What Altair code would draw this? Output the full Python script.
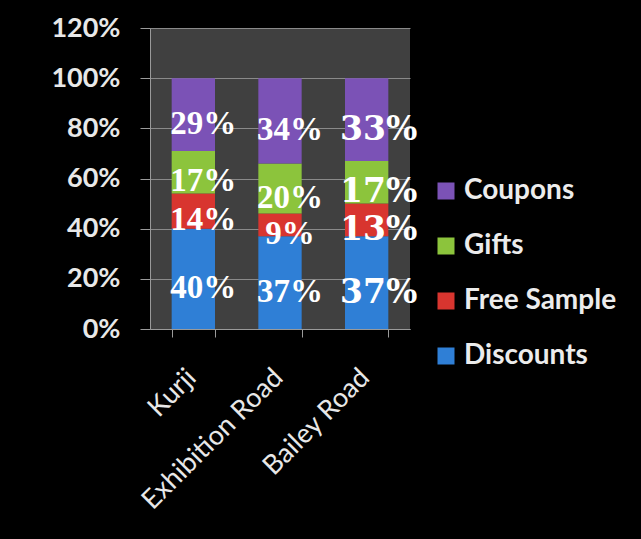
import altair as alt
import pandas as pd

stores = ["Kurji", "Exhibition Road", "Bailey Road"]
series = ["Discounts", "Free Sample", "Gifts", "Coupons"]
discounts = [40, 37, 37]
free_sample = [14, 9, 13]
gifts = [17, 20, 17]
coupons = [29, 34, 33]
colors = ["#2f7fd6", "#d8352f", "#8cc43c", "#7b52b6"]
y_ticks = [0, 0.2, 0.4, 0.6, 0.8, 1.0, 1.2]

rows = []
for i, s in enumerate(stores):
    for k, (name, vals) in enumerate(zip(series, [discounts, free_sample, gifts, coupons])):
        rows.append({"store": s, "series": name, "order": k, "value": vals[i] / 100.0,
                     "label": f"{vals[i]}%"})
df = pd.DataFrame(rows)

base = alt.Chart(df).transform_stack(
    stack="value", groupby=["store"], as_=["y0", "y1"],
    sort=[alt.SortField("order", order="ascending")]
).transform_calculate(
    ymid="(datum.y0 + datum.y1) / 2"
)

x_enc = alt.X("store:N", sort=stores, title=None,
              scale=alt.Scale(paddingInner=0.5, paddingOuter=0.25),
              axis=alt.Axis(labelAngle=-45, labelFont="Lato", labelFontSize=27,
                            labelColor="#e8e8e8", tickBand="extent", tickSize=8,
                            tickColor="#9a9a9a", domainColor="#9a9a9a",
                            labelPadding=27, labelOffset=-11, labelLimit=0))

bars = base.mark_bar().encode(
    x=x_enc,
    y=alt.Y("y0:Q", title=None,
            scale=alt.Scale(domain=[0, 1.2], nice=False),
            axis=alt.Axis(values=y_ticks, format=".0%", labelFont="Lato",
                          labelFontSize=27, labelFontWeight="bold", labelColor="#e8e8e8",
                          tickSize=10, tickColor="#9a9a9a", labelPadding=20,
                          domainColor="#9a9a9a", gridColor="#8a8a8a", gridWidth=1.2)),
    y2="y1:Q",
    color=alt.Color("series:N",
                    scale=alt.Scale(domain=series[::-1], range=colors[::-1]),
                    legend=alt.Legend(title=None, orient="none", legendX=282, legendY=149,
                                      direction="vertical", symbolType="square",
                                      symbolSize=289, symbolStrokeWidth=0,
                                      labelFont="Lato", labelFontSize=28,
                                      labelFontWeight="bold",
                                      labelColor="#ececec", rowPadding=27,
                                      labelOffset=4, padding=0)),
)

labels_a = base.transform_filter(alt.datum.store != "Bailey Road").mark_text(
    font="Liberation Serif", fontWeight="bold", color="white", fontSize=33,
    dx=10, dy=9).encode(
    x=alt.X("store:N", sort=stores),
    y="ymid:Q",
    text="label:N",
)

labels_b = base.transform_filter(alt.datum.store == "Bailey Road").mark_text(
    font="DejaVu Serif", fontWeight="bold", color="white", fontSize=33,
    dx=12, dy=10).encode(
    x=alt.X("store:N", sort=stores),
    y="ymid:Q",
    text="label:N",
)

chart = alt.layer(bars, labels_a, labels_b).properties(
    width=260, height=301,
    autosize=alt.AutoSizeParams(type="none"),
    padding={"left": 150, "top": 28, "right": 231, "bottom": 210},
    background="black",
).configure_view(
    fill="#404040", stroke=None
)

chart.save("out.html", embed_options={"renderer": "svg", "actions": False})
